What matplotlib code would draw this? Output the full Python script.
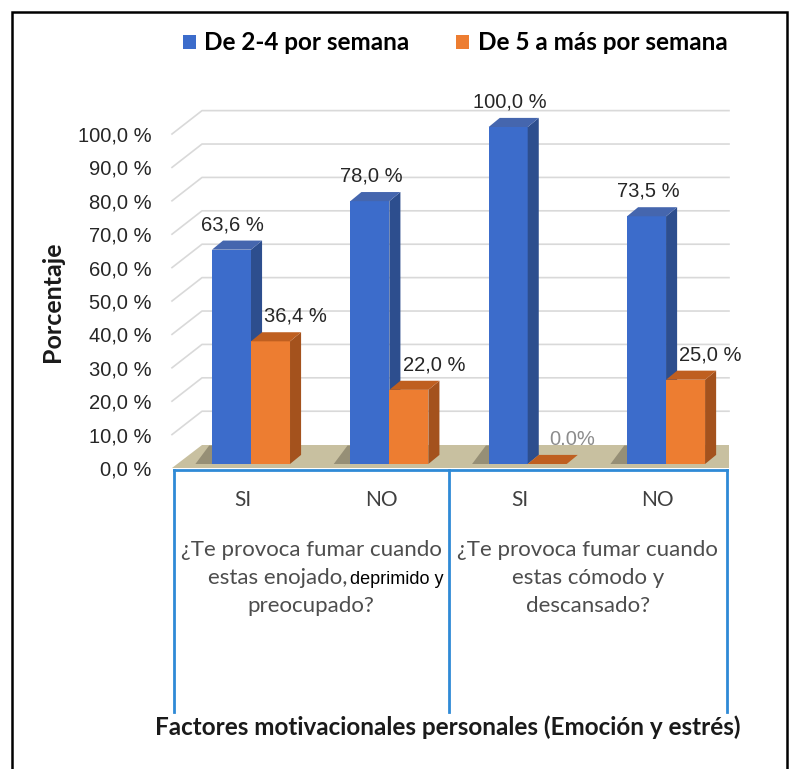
import matplotlib
matplotlib.use("Agg")
import matplotlib.pyplot as plt
from matplotlib.patches import Polygon, Rectangle, Patch

# ---- data ----
categories = ["SI", "NO", "SI", "NO"]
groups = ["¿Te provoca fumar cuando\nestas enojado, deprimido y\npreocupado?",
          "¿Te provoca fumar cuando\nestas cómodo y\ndescansado?"]
series_names = ["De 2-4 por semana", "De 5 a más por semana"]
blue_vals = [63.6, 78.0, 100.0, 73.5]
orange_vals = [36.4, 22.0, 0.0, 25.0]
yticks = [0, 10, 20, 30, 40, 50, 60, 70, 80, 90, 100]

# ---- style ----
W, H = 795, 769
fig = plt.figure(figsize=(W / 100, H / 100), dpi=100)
ax = fig.add_axes([172 / W, (H - 468) / H, 557 / W, 334 / H])
xmin, xmax = -0.571, 3.455
ax.set_xlim(xmin, xmax)
ax.set_ylim(0, 100)
for s in ax.spines.values():
    s.set_visible(False)
ax.set_xticks([])

# bar axes (perspective: bars stand slightly behind the front axis)
bx = fig.add_axes([172 / W, (H - 464) / H, 557 / W, 337 / H])
bx.set_xlim(xmin, xmax)
bx.set_ylim(0, 100)
bx.axis("off")
bx.patch.set_visible(False)

bw = 0.282          # bar width (x units)
bdx, bdy = 0.08, 2.7   # bar depth offsets
wdx, wdy = 0.217, 7.0  # wall/floor depth offsets

front_cols = ["#3c6ccb", "#ed7d31"]
side_cols = ["#2d4e8e", "#a4521d"]
top_cols = ["#4566ae", "#bf5f20"]
grid_col = "#d9d9d9"
floor_col = "#c8c0a0"
txt_col = "#262626"
axis_blue = "#2f8ad6"

# floor
ax.add_patch(Polygon([(xmin, 0), (xmax, 0), (xmax, wdy), (xmin + wdx, wdy)],
                     closed=True, facecolor=floor_col, edgecolor="none",
                     clip_on=False, zorder=1))
# wall gridlines
for t in yticks[1:]:
    ax.plot([xmin, xmin + wdx, xmax], [t, t + wdy, t + wdy], color=grid_col,
            lw=1.2, clip_on=False, zorder=0.5)

ax.set_yticks(yticks)
ax.set_yticklabels([f"{t:.1f} %".replace(".", ",") for t in yticks],
                   fontfamily="Liberation Sans", fontsize=14.5, color=txt_col)
ax.tick_params(axis="y", length=0, pad=14.5)

# bars
def draw_bar(x0, v, k):
    bx.bar([x0], [v], width=bw, align="edge", color=front_cols[k],
           edgecolor="none", zorder=3, clip_on=False)
    x1 = x0 + bw
    bx.add_patch(Polygon([(x1, 0), (x1 + bdx, bdy), (x1 + bdx, v + bdy), (x1, v)],
                         closed=True, facecolor=side_cols[k], edgecolor="none",
                         zorder=3, clip_on=False))
    bx.add_patch(Polygon([(x0, v), (x1, v), (x1 + bdx, v + bdy), (x0 + bdx, v + bdy)],
                         closed=True, facecolor=top_cols[k], edgecolor="none",
                         zorder=3, clip_on=False))

for i in range(len(categories)):
    # floor shadow
    bx.add_patch(Polygon([(i - bw - 0.12, 0.0), (i - bw, 0.0), (i - bw + 0.05, 5.5),
                          (i - bw - 0.02, 5.5)],
                         closed=True, facecolor="#3a3528", alpha=0.35, edgecolor="none",
                         zorder=2, clip_on=False))
    draw_bar(i - bw, blue_vals[i], 0)
    draw_bar(i, orange_vals[i], 1)

# data labels
for i in range(len(categories)):
    bv = blue_vals[i]
    bx.text(i - bw / 2 + 0.01, bv + 7.4, f"{bv:.1f} %".replace(".", ","),
            ha="center", va="center", fontfamily="Liberation Sans",
            fontsize=14.5, color=txt_col, zorder=5, clip_on=False)
    ov = orange_vals[i]
    if ov == 0:
        lab, col = f"{ov:.1f}%", "#8c8c8c"
    else:
        lab, col = f"{ov:.1f} %".replace(".", ","), txt_col
    bx.text(i + bw / 2 + 0.18, ov + 7.4, lab, ha="center", va="center",
            fontfamily="Liberation Sans", fontsize=14.5, color=col, zorder=5,
            clip_on=False)

# category axis box
ybox_top, ybox_bot = -0.6, -73.0
xl, xm, xr = -0.557, 1.431, 3.44
ax.plot([xl, xr], [ybox_top, ybox_top], color=axis_blue, lw=2, clip_on=False, zorder=4)
for xv in (xl, xm, xr):
    ax.plot([xv, xv], [ybox_top, ybox_bot], color=axis_blue, lw=2, clip_on=False, zorder=4)

for i, c in enumerate(categories):
    ax.text(i - 0.06, -9.6, c, ha="center", va="center", fontfamily="Lato",
            fontsize=15, color="#404040", clip_on=False)

line_y = [-24.5, -32.9, -41.3]
gcol = "#4d4d4d"
for g, gx in zip(groups, (0.435, 2.435)):
    for ln, ly in zip(g.split("\n"), line_y):
        if "deprimido" in ln:
            head, tail = ln.split(" deprimido")
            ax.text(0.695, ly - 1.9, head, ha="right", va="baseline", fontfamily="Lato",
                    fontsize=16, color=gcol, clip_on=False)
            ax.text(0.712, ly - 1.9, "deprimido" + tail, ha="left", va="baseline",
                    fontfamily="Liberation Sans", fontsize=13, color="black",
                    clip_on=False)
        else:
            ax.text(gx, ly, ln, ha="center", va="center", fontfamily="Lato",
                    fontsize=16, color=gcol, clip_on=False)

# legend
handles = [Patch(facecolor=front_cols[0]), Patch(facecolor=front_cols[1])]
fig.legend(handles, series_names, loc="center", bbox_to_anchor=(455 / W, 1 - 43 / H),
           ncol=2, frameon=False, handlelength=0.55, handleheight=0.55,
           handletextpad=0.35, columnspacing=1.9,
           prop={"family": "Lato", "weight": "bold", "size": 17.5})

# axis titles
fig.text(52 / W, 1 - 302 / H, "Porcentaje", rotation=90, ha="center", va="center",
         fontfamily="Lato", fontweight="bold", fontsize=18, color="#1a1a1a")
fig.text(448 / W, 1 - 727 / H, "Factores motivacionales personales (Emoción y estrés)",
         ha="center", va="center", fontfamily="Lato", fontweight="bold",
         fontsize=17.5, color="#1a1a1a")

# outer border
fig.add_artist(Rectangle((12 / W, -0.05), 775 / W, 1.05 - 12 / H,
                         transform=fig.transFigure, fill=False, edgecolor="black",
                         lw=1.8))

fig.savefig("out.png", dpi=100)
